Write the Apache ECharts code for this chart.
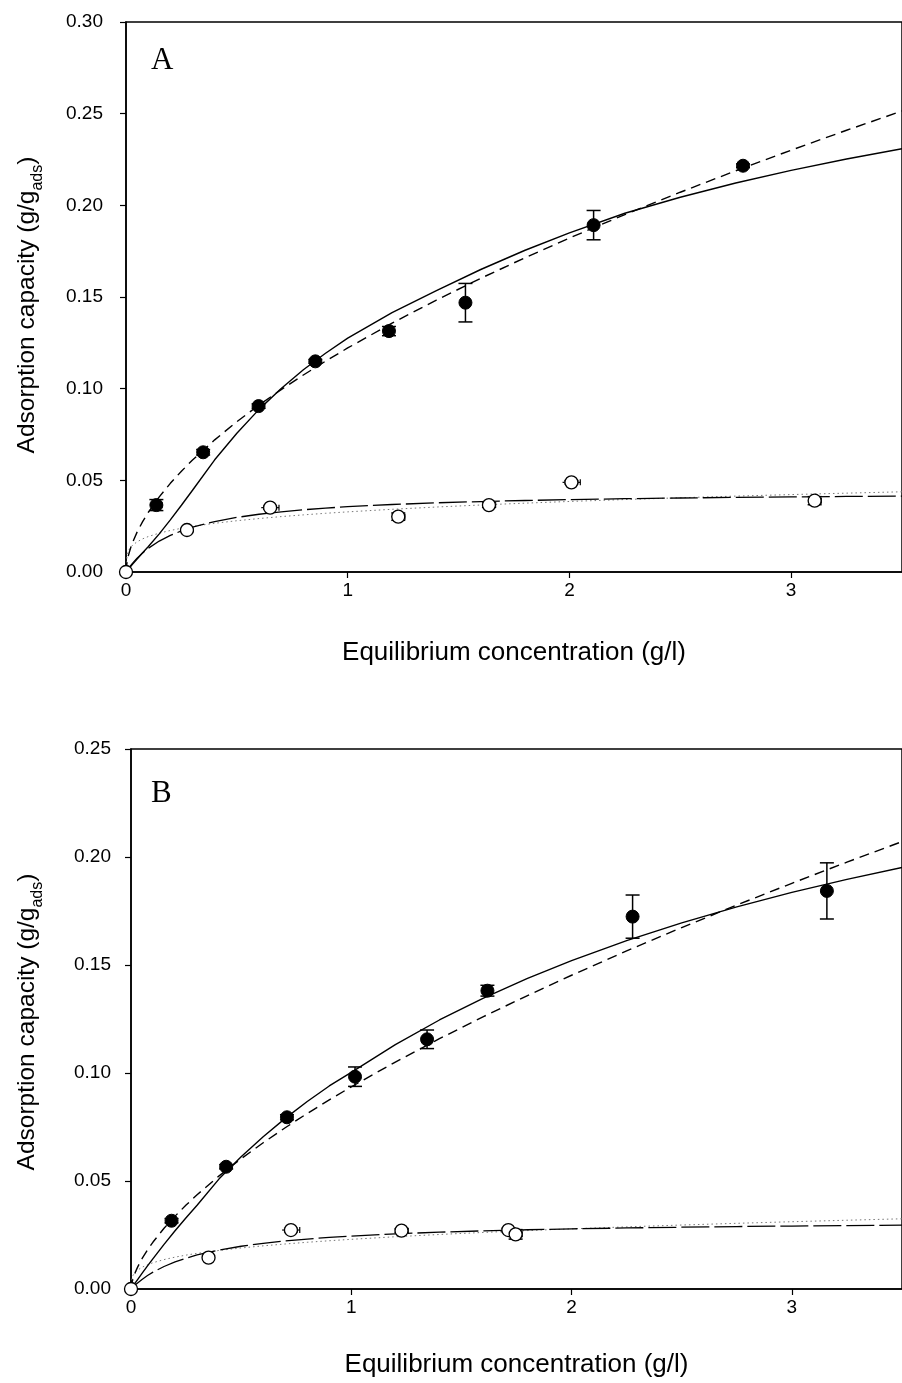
<!DOCTYPE html>
<html>
<head>
<meta charset="utf-8">
<script src="https://cdn.jsdelivr.net/npm/echarts@6/dist/echarts.min.js"></script>
<style>
html,body{margin:0;padding:0;background:#fff;}
#chart{width:902px;height:1383px;}
</style>
</head>
<body>
<div id="chart"></div>
<script>
// ---------- Panel A measured points ----------
const A_filled_x    = [0.137, 0.348, 0.598, 0.854, 1.186, 1.531, 2.109, 2.783];
const A_filled_y    = [0.0365, 0.0653, 0.0905, 0.1149, 0.1314, 0.1469, 0.1892, 0.2216];
const A_filled_yerr = [0.003, 0.0015, 0.0012, 0.001, 0.0025, 0.0105, 0.008, 0.001];
const A_filled_xerr = [0.025, 0, 0, 0, 0, 0, 0, 0];

const A_open_x    = [0, 0.275, 0.650, 1.228, 1.637, 2.009, 3.106];
const A_open_y    = [0, 0.0229, 0.0351, 0.0302, 0.0365, 0.0489, 0.0389];
const A_open_yerr = [0, 0.0008, 0.0008, 0.002, 0.0012, 0.0008, 0.0022];
const A_open_xerr = [0, 0.02, 0.04, 0.03, 0.03, 0.04, 0.03];

// ---------- curve sample positions (x, g/l) ----------
const CURVE_X = [0, 0.005, 0.01, 0.02, 0.03, 0.05, 0.075, 0.1, 0.15, 0.2, 0.25, 0.3, 0.4, 0.5, 0.6, 0.7, 0.8, 0.9,
                 1.0, 1.2, 1.4, 1.6, 1.8, 2.0, 2.25, 2.5, 2.75, 3.0, 3.25, 3.5];

// ---------- Panel A curves ----------
const A_solid_y = [0, 0.00073, 0.00146, 0.0029, 0.0043, 0.0071, 0.0105, 0.0138, 0.0208, 0.0284, 0.0364, 0.0446, 0.0612, 0.0757, 0.0887, 0.1001, 0.1103, 0.1193,
                   0.1276, 0.1415, 0.1535, 0.1650, 0.1755, 0.1850, 0.1957, 0.2044, 0.2122, 0.2191, 0.2253, 0.2309];
const A_dash_y = [0, 0.00578, 0.00861, 0.01284, 0.01621, 0.02176, 0.02749, 0.03244, 0.04097, 0.04836, 0.05499, 0.06107, 0.07208, 0.08198, 0.09105, 0.09950, 0.10746, 0.11500,
                  0.1222, 0.13573, 0.14834, 0.16019, 0.17145, 0.18216, 0.19496, 0.20715, 0.21884, 0.23009, 0.24094, 0.25145];
const A_longdash_y = [0, 0.00089, 0.00174, 0.00336, 0.00485, 0.00754, 0.01042, 0.01288, 0.01687, 0.01996, 0.02242, 0.02443, 0.02752, 0.02978, 0.0315, 0.03285, 0.03395, 0.03485,
                      0.03561, 0.03682, 0.03773, 0.03844, 0.03901, 0.03948, 0.03997, 0.04036, 0.04069, 0.04097, 0.04121, 0.04141];
const A_dot_y = [0, 0.0097, 0.01137, 0.01334, 0.01464, 0.01647, 0.01808, 0.01932, 0.0212, 0.02265, 0.02385, 0.02487, 0.02657, 0.02797, 0.02916, 0.03022, 0.03116, 0.03202,
                 0.0328, 0.0342, 0.03544, 0.03655, 0.03755, 0.03847, 0.03952, 0.04049, 0.04139, 0.04223, 0.04301, 0.04375];

// ---------- Panel B measured points ----------
const B_filled_x    = [0.184, 0.432, 0.708, 1.017, 1.344, 1.618, 2.277, 3.159];
const B_filled_y    = [0.0316, 0.0566, 0.0795, 0.0983, 0.1156, 0.1381, 0.1724, 0.1843];
const B_filled_yerr = [0.001, 0.001, 0.0012, 0.0045, 0.0043, 0.0025, 0.010, 0.013];
const B_filled_xerr = [0.02, 0.02, 0.02, 0, 0, 0, 0, 0];

const B_open_x    = [0, 0.352, 0.726, 1.228, 1.713, 1.746];
const B_open_y    = [0, 0.0145, 0.0273, 0.0270, 0.0273, 0.0253];
const B_open_yerr = [0, 0, 0.0008, 0.0008, 0.0008, 0.0022];
const B_open_xerr = [0, 0, 0.04, 0.03, 0.03, 0.03];

// ---------- Panel B curves ----------
const B_solid_y = [0, 0.00074, 0.00147, 0.00292, 0.00436, 0.00721, 0.01068, 0.01409, 0.02067, 0.02696, 0.0330, 0.03878, 0.0510, 0.0612, 0.0705, 0.0790, 0.0868, 0.0940,
                   0.10033, 0.11316, 0.12454, 0.13469, 0.14381, 0.15205, 0.16129, 0.16953, 0.17692, 0.1836, 0.18965, 0.19517];
const B_dash_y = [0, 0.00325, 0.00505, 0.00784, 0.01013, 0.01401, 0.01811, 0.02174, 0.02811, 0.03374, 0.03887, 0.04363, 0.05236, 0.06032, 0.06771, 0.07466, 0.08126, 0.08755,
                  0.0936, 0.10507, 0.11586, 0.1261, 0.13587, 0.14525, 0.15651, 0.16732, 0.17776, 0.18783, 0.19762, 0.20713];
const B_longdash_y = [0, 0.00051, 0.001, 0.00193, 0.00281, 0.00443, 0.00622, 0.00779, 0.01042, 0.01254, 0.01429, 0.01575, 0.01805, 0.01979, 0.02115, 0.02224, 0.02313, 0.02388,
                      0.02452, 0.02553, 0.02631, 0.02692, 0.02742, 0.02784, 0.02826, 0.02861, 0.02891, 0.02915, 0.02937, 0.02955];
const B_dot_y = [0, 0.00533, 0.00645, 0.00781, 0.00874, 0.01006, 0.01125, 0.01218, 0.01362, 0.01475, 0.01569, 0.0165, 0.01786, 0.019, 0.01998, 0.02084, 0.02163, 0.02234,
                 0.023, 0.02419, 0.02524, 0.02619, 0.02705, 0.02785, 0.02877, 0.02962, 0.03041, 0.03115, 0.03184, 0.0325];

// ---------- axis settings ----------
const X_MIN = 0, X_MAX = 3.5, X_STEP = 1;
const A_Y_MAX = 0.30, B_Y_MAX = 0.25, Y_STEP = 0.05;
const X_TITLE = 'Equilibrium concentration (g/l)';
const Y_TITLE = '{a|Adsorption capacity (g/g}{s|ads}{a|)}';

// ---------- helpers ----------
const zip2 = (xs, ys) => xs.map((x, i) => [x, ys[i]]);
const zip4 = (xs, ys, ey, ex) => xs.map((x, i) => [x, ys[i], ey[i], ex[i]]);
const FONT = '"Liberation Sans", Arial, sans-serif';

function errRender(params, api) {
  const x = api.value(0), y = api.value(1), ey = api.value(2), ex = api.value(3);
  const style = {stroke: '#000', lineWidth: 1.5, fill: null};
  const ch = [];
  if (ey > 0) {
    const t = api.coord([x, y + ey]), b = api.coord([x, y - ey]);
    ch.push({type: 'line', shape: {x1: t[0], y1: t[1], x2: b[0], y2: b[1]}, style});
    ch.push({type: 'line', shape: {x1: t[0] - 7, y1: t[1], x2: t[0] + 7, y2: t[1]}, style});
    ch.push({type: 'line', shape: {x1: b[0] - 7, y1: b[1], x2: b[0] + 7, y2: b[1]}, style});
  }
  if (ex > 0) {
    const l = api.coord([x - ex, y]), r = api.coord([x + ex, y]);
    const s2 = {stroke: '#000', lineWidth: 1.2, fill: null};
    ch.push({type: 'line', shape: {x1: l[0], y1: l[1], x2: r[0], y2: r[1]}, style: s2});
    ch.push({type: 'line', shape: {x1: r[0], y1: r[1] - 3, x2: r[0], y2: r[1] + 3}, style: s2});
  }
  return {type: 'group', children: ch};
}

function xAxisCfg(gi, gap) {
  return {
    gridIndex: gi, type: 'value', min: X_MIN, max: X_MAX, interval: X_STEP,
    name: X_TITLE, nameLocation: 'middle', nameGap: gap,
    nameTextStyle: {fontFamily: FONT, fontSize: 26, color: '#000'},
    axisLine: {show: true, onZero: false, lineStyle: {color: '#000', width: 1.5}},
    axisTick: {show: true, inside: false, length: 6, lineStyle: {color: '#000', width: 1.2}},
    axisLabel: {fontFamily: FONT, fontSize: 19, color: '#000', margin: 9, showMaxLabel: false,
      formatter: v => (Math.abs(v - Math.round(v)) < 1e-9 ? String(Math.round(v)) : '')},
    splitLine: {show: false}
  };
}
function yAxisCfg(gi, max, gap, margin, shift) {
  return {
    gridIndex: gi, type: 'value', min: 0, max: max, interval: Y_STEP,
    name: Y_TITLE, nameLocation: 'middle', nameGap: gap,
    nameTextStyle: {
      color: '#000',
      padding: [0, shift, 0, 0],
      rich: {
        a: {fontFamily: FONT, fontSize: 24.5, color: '#000', lineHeight: 30, verticalAlign: 'bottom'},
        s: {fontFamily: FONT, fontSize: 16, color: '#000', lineHeight: 30, verticalAlign: 'bottom', padding: [0, 0, -6, 0]}
      }
    },
    axisLine: {show: true, lineStyle: {color: '#000', width: 1.5}},
    axisTick: {show: true, inside: false, length: 6, lineStyle: {color: '#000', width: 1.2}},
    axisLabel: {fontFamily: FONT, fontSize: 19, color: '#000', margin: margin, formatter: v => v.toFixed(2)},
    splitLine: {show: false}
  };
}
function curve(gi, ys, type, color, width) {
  return {
    type: 'line', xAxisIndex: gi, yAxisIndex: gi, data: zip2(CURVE_X, ys),
    smooth: false, showSymbol: false, symbol: 'none', silent: true,
    lineStyle: {color: color, width: width, type: type}, z: 2
  };
}
function errs(gi, xs, ys, ey, ex) {
  return {
    type: 'custom', xAxisIndex: gi, yAxisIndex: gi, data: zip4(xs, ys, ey, ex),
    renderItem: errRender, encode: {x: 0, y: 1}, z: 3, silent: true, clip: false
  };
}
function pts(gi, xs, ys, filled) {
  return {
    type: 'scatter', xAxisIndex: gi, yAxisIndex: gi, data: zip2(xs, ys),
    symbol: 'circle', symbolSize: 13, clip: false, silent: true,
    itemStyle: filled ? {color: '#000', borderColor: '#000', borderWidth: 1, opacity: 1}
                      : {color: '#fff', borderColor: '#000', borderWidth: 1.3, opacity: 1},
    z: 4
  };
}

const chart = echarts.init(document.getElementById('chart'), null, {renderer: 'canvas'});
chart.setOption({
  backgroundColor: '#fff',
  animation: false,
  grid: [
    {left: 126, top: 22, width: 784, height: 550, show: true, borderColor: '#000', borderWidth: 1.5, backgroundColor: 'transparent'},
    {left: 131, top: 749, width: 775, height: 540, show: true, borderColor: '#000', borderWidth: 1.5, backgroundColor: 'transparent'}
  ],
  xAxis: [xAxisCfg(0, 68), xAxisCfg(1, 63)],
  yAxis: [yAxisCfg(0, A_Y_MAX, 86, 23, 16), yAxisCfg(1, B_Y_MAX, 91, 20, 6)],
  graphic: [
    {type: 'text', left: 151, top: 45, style: {text: 'A', font: '31px "Liberation Serif", "Times New Roman", serif', fill: '#000'}},
    {type: 'text', left: 151, top: 778, style: {text: 'B', font: '31px "Liberation Serif", "Times New Roman", serif', fill: '#000'}}
  ],
  series: [
    curve(0, A_dot_y, [1.5, 3], '#777', 1),
    curve(0, A_longdash_y, [28, 5], '#000', 1.3),
    curve(0, A_solid_y, 'solid', '#000', 1.4),
    curve(0, A_dash_y, [10, 6], '#000', 1.4),
    errs(0, A_filled_x, A_filled_y, A_filled_yerr, A_filled_xerr),
    errs(0, A_open_x, A_open_y, A_open_yerr, A_open_xerr),
    pts(0, A_filled_x, A_filled_y, true),
    pts(0, A_open_x, A_open_y, false),

    curve(1, B_dot_y, [1.5, 3], '#777', 1),
    curve(1, B_longdash_y, [28, 5], '#000', 1.3),
    curve(1, B_solid_y, 'solid', '#000', 1.4),
    curve(1, B_dash_y, [10, 6], '#000', 1.4),
    errs(1, B_filled_x, B_filled_y, B_filled_yerr, B_filled_xerr),
    errs(1, B_open_x, B_open_y, B_open_yerr, B_open_xerr),
    pts(1, B_filled_x, B_filled_y, true),
    pts(1, B_open_x, B_open_y, false)
  ]
});
</script>
</body>
</html>
